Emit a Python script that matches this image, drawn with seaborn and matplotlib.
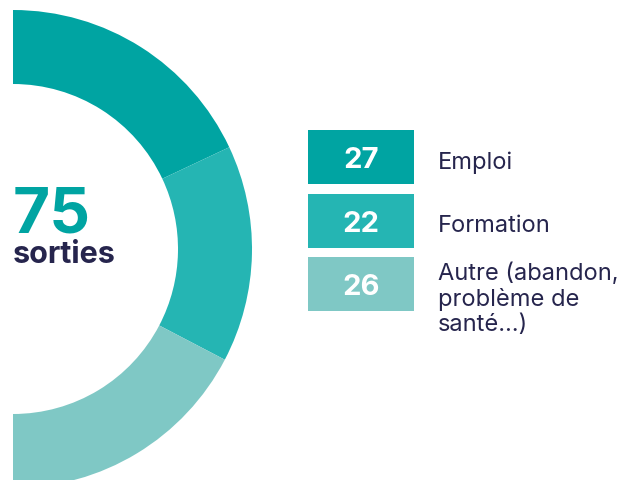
import matplotlib
matplotlib.use("Agg")
import matplotlib.pyplot as plt
from matplotlib.patches import Rectangle
import seaborn as sns

# data
CATEGORIES = ["Emploi", "Formation", "Autre (abandon,\nproblème de\nsanté…)"]
COUNTS = [27, 22, 26]
COLORS = ["#00A4A2", "#25B5B3", "#7FC8C5"]
TOTAL_LABEL = "sorties"
NAVY = "#26254D"

sns.set_theme(style="white")
plt.rcParams["font.family"] = ["Inter", "DejaVu Sans"]

W, H = 633, 481
fig = plt.figure(figsize=(W / 100, H / 100), dpi=100)

# half donut, centre on the left edge
cx, cy, R, r_in = 13, 250, 239, 165
ax = fig.add_axes([(cx - R) / W, (H - cy - R) / H, 2 * R / W, 2 * R / H])
total = sum(COUNTS)
ax.pie(COUNTS + [total], colors=COLORS + ["none"], startangle=90,
       counterclock=False, radius=1,
       wedgeprops=dict(width=(R - r_in) / R, linewidth=0))
ax.set_xlim(-1, 1)
ax.set_ylim(-1, 1)
ax.axis("off")

# centre text
fig.text(cx / W, 1 - 233 / H, str(total), color=COLORS[0], fontsize=46,
         fontweight="bold", ha="left", va="baseline")
fig.text(cx / W, 1 - 263 / H, TOTAL_LABEL, color=NAVY, fontsize=22,
         fontweight="bold", ha="left", va="baseline")

# legend boxes
bx0, bx1, bh, step, top0 = 308, 414, 54, 63.5, 131
for i, (lab, n, c) in enumerate(zip(CATEGORIES, COUNTS, COLORS)):
    top = top0 + i * step
    fig.patches.append(Rectangle((bx0 / W, 1 - (top + bh) / H), (bx1 - bx0) / W, bh / H,
                                 transform=fig.transFigure, facecolor=c, edgecolor="none"))
    mid = top + bh / 2
    fig.text((bx0 + bx1) / 2 / W, 1 - (mid + 10.5) / H, str(n), color="white",
             fontsize=21, fontweight="bold", ha="center", va="baseline")
    if "\n" in lab:
        fig.text(438 / W, 1 - (top + 4) / H, lab, color=NAVY, fontsize=17,
                 ha="left", va="top", linespacing=1.2)
    else:
        fig.text(438 / W, 1 - (mid + 11) / H, lab, color=NAVY, fontsize=17,
                 ha="left", va="baseline")

fig.savefig("out.png", dpi=100)
